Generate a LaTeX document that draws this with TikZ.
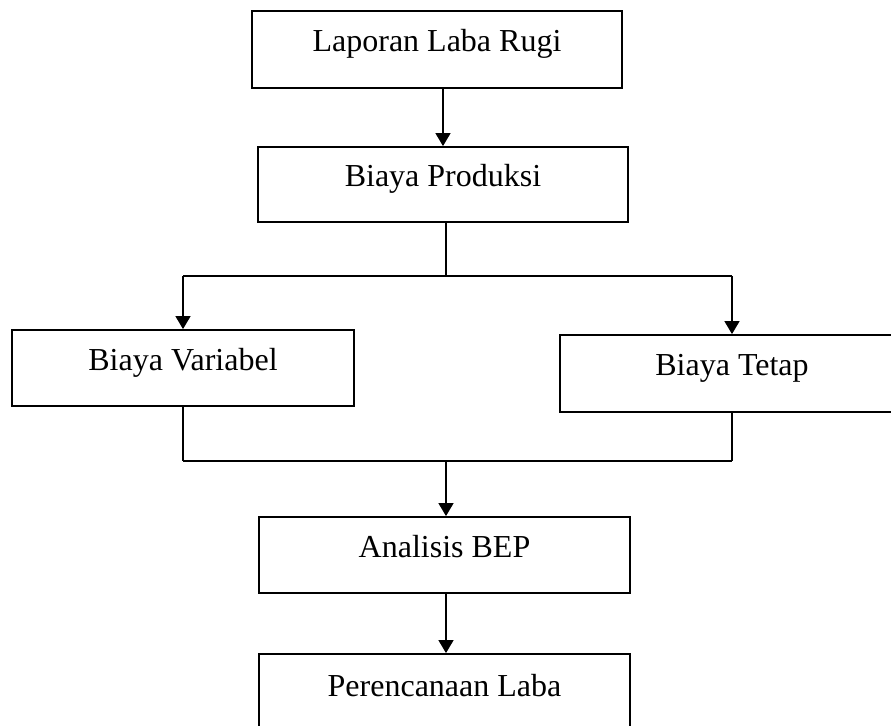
\documentclass[tikz,border=0pt]{standalone}
\usepackage{fontspec}
\setmainfont{Liberation Serif}
\usetikzlibrary{arrows.meta}

\tikzset{
  box/.style={draw, line width=0.9pt, minimum width=#1, text height=0.7em, text depth=0.45em, font=\fontsize{16}{19}\selectfont},
  arr/.style={line width=0.7pt, -{Triangle[width=7.5pt,length=6.5pt]}},
  ln/.style={line width=0.7pt}
}

\begin{document}
\begin{tikzpicture}[x=0.5pt,y=-0.5pt]

\clip (0,0) rectangle (891,726);

% Boxes
\node[box=185pt, minimum height=38.5pt] (lap) at (437,49.5) {Laporan Laba Rugi};
\node[box=185pt, minimum height=37.5pt] (prod) at (443,184.5) {Biaya Produksi};
\node[box=171pt, minimum height=38pt] (var) at (183,368) {Biaya Variabel};
\node[box=172pt, minimum height=38.5pt] (tetap) at (732,373.5) {Biaya Tetap};
\node[box=185.5pt, minimum height=38pt] (bep) at (444.5,555) {Analisis BEP};
\node[box=185.5pt, minimum height=40pt] (laba) at (444.5,694) {Perencanaan Laba};

% Split
\coordinate (split) at (446,276);
\coordinate (join) at (446,461);

\draw[arr] (lap.south -| prod) -- (prod.north);
\draw[ln] (prod.south -| split) -- (split);
\draw[ln] (var.north |- split) -- (tetap.north |- split);
\draw[arr] (var.north |- split) -- (var.north);
\draw[arr] (tetap.north |- split) -- (tetap.north);

% Join
\draw[ln] (var.south) -- (var.south |- join);
\draw[ln] (tetap.south) -- (tetap.south |- join);
\draw[ln] (var.south |- join) -- (tetap.south |- join);
\draw[arr] (join) -- (bep.north -| join);
\draw[arr] (bep.south -| join) -- (laba.north -| join);

\end{tikzpicture}
\end{document}
